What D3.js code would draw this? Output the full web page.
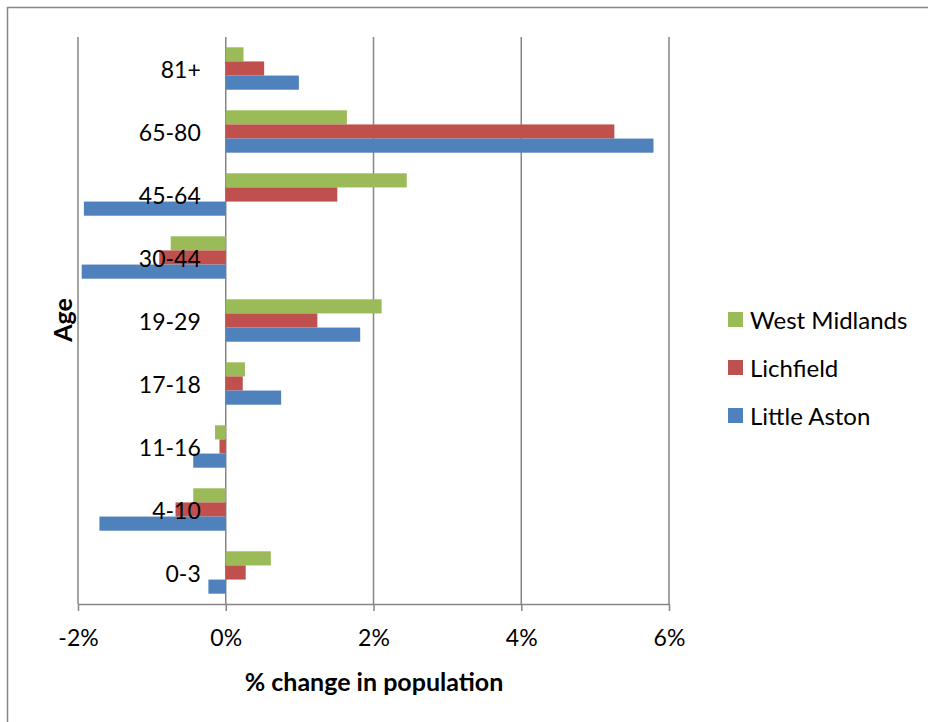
<!DOCTYPE html>
<html>
<head>
<meta charset="utf-8">
<script src="https://cdn.jsdelivr.net/npm/d3@7"></script>
<style>
  html, body { margin: 0; padding: 0; background: #fff; }
  svg { display: block; font-family: Lato, "Open Sans", sans-serif; }
</style>
</head>
<body>
<svg id="chart" width="928" height="722"></svg>
<script>
// Age bands, bottom to top
const ages = ["0-3", "4-10", "11-16", "17-18", "19-29", "30-44", "45-64", "65-80", "81+"];

// Percentage change in population for each age band
const littleAston   = [-0.235, -1.71, -0.44, 0.75, 1.82, -1.95, -1.92, 5.79, 0.99];
const lichfield     = [0.27, -0.68, -0.085, 0.23, 1.24, -0.90, 1.51, 5.26, 0.52];
const westMidlands  = [0.61, -0.44, -0.145, 0.26, 2.11, -0.745, 2.45, 1.64, 0.24];

const seriesNames  = ["West Midlands", "Lichfield", "Little Aston"];
const seriesValues = [westMidlands, lichfield, littleAston];
const seriesColors = ["#9BBB59", "#C0504D", "#4F81BD"];

const xTicks = [-2, 0, 2, 4, 6];

const svg = d3.select("#chart");
const gridColor = "#868686";

// outer frame
svg.append("rect")
  .attr("x", 7.5).attr("y", 7.5)
  .attr("width", 940).attr("height", 740)
  .attr("fill", "none").attr("stroke", gridColor).attr("stroke-width", 1.5);

const plot = { left: 78, right: 669, top: 37, bottom: 604 };

const x = d3.scaleLinear().domain([-2, 6]).range([plot.left, plot.right]);

const y = d3.scaleBand()
  .domain(ages.slice().reverse())
  .range([plot.top, plot.bottom])
  .paddingInner(0.327)
  .paddingOuter(0.1635);

const ySub = d3.scaleBand()
  .domain(seriesNames)
  .range([0, y.bandwidth()]);

// vertical gridlines
svg.append("g")
  .selectAll("line")
  .data(xTicks)
  .join("line")
  .attr("x1", d => x(d)).attr("x2", d => x(d))
  .attr("y1", plot.top).attr("y2", plot.bottom)
  .attr("stroke", gridColor).attr("stroke-width", 1.5);

// bars
const rows = [];
ages.forEach((a, i) => {
  seriesNames.forEach((s, j) => {
    rows.push({ age: a, series: s, value: seriesValues[j][i], color: seriesColors[j] });
  });
});

svg.append("g")
  .selectAll("rect")
  .data(rows)
  .join("rect")
  .attr("x", d => x(Math.min(0, d.value)))
  .attr("width", d => Math.abs(x(d.value) - x(0)))
  .attr("y", d => y(d.age) + ySub(d.series))
  .attr("height", ySub.bandwidth())
  .attr("fill", d => d.color);

// x axis
const xAxis = svg.append("g")
  .attr("transform", `translate(0,${plot.bottom})`)
  .call(d3.axisBottom(x)
    .tickValues(xTicks)
    .tickSize(7)
    .tickSizeOuter(0)
    .tickPadding(19)
    .tickFormat(d => d + "%"));
xAxis.select(".domain").attr("stroke", gridColor).attr("stroke-width", 1.5);
xAxis.selectAll(".tick line").attr("stroke", gridColor).attr("stroke-width", 1.5);
xAxis.selectAll(".tick text")
  .attr("fill", "#000")
  .style("font-size", "23px")
  .style("font-family", "Lato, 'Open Sans', sans-serif");

// category labels beside the zero line
svg.append("g")
  .selectAll("text")
  .data(ages)
  .join("text")
  .attr("x", x(0) - 25)
  .attr("y", d => y(d) + y.bandwidth() / 2)
  .attr("text-anchor", "end")
  .attr("dominant-baseline", "central")
  .attr("fill", "#000")
  .style("font-size", "23px")
  .text(d => d);

// axis titles
svg.append("text")
  .attr("x", 374).attr("y", 681)
  .attr("text-anchor", "middle")
  .attr("dominant-baseline", "central")
  .style("font-size", "25px").style("font-weight", "bold")
  .text("% change in population");

svg.append("text")
  .attr("transform", "translate(62,320) rotate(-90)")
  .attr("text-anchor", "middle")
  .attr("dominant-baseline", "central")
  .style("font-size", "25px").style("font-weight", "bold")
  .text("Age");

// legend
const legend = svg.append("g").attr("transform", "translate(728,312)");
const items = legend.selectAll("g")
  .data(seriesNames)
  .join("g")
  .attr("transform", (d, i) => `translate(0,${i * 48})`);
items.append("rect")
  .attr("width", 15).attr("height", 15)
  .attr("fill", (d, i) => seriesColors[i]);
items.append("text")
  .attr("x", 22).attr("y", 7.5)
  .attr("dominant-baseline", "central")
  .attr("fill", "#000")
  .style("font-size", "24px")
  .text(d => d);
</script>
</body>
</html>
